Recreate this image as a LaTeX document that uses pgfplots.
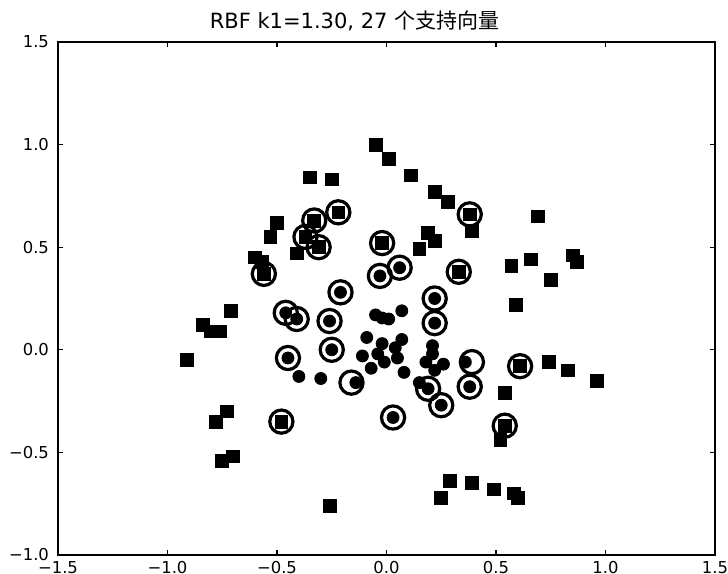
\documentclass[border=0pt]{standalone}
\usepackage{fontspec}
\setmainfont{DejaVu Sans}
\newfontfamily\cjk{Noto Sans CJK SC}
\usepackage{pgfplots}
\pgfplotsset{compat=1.18}

\begin{document}
\begin{tikzpicture}
\begin{axis}[
  scale only axis,
  width=328.5pt, height=256.5pt,
  xmin=-1.5, xmax=1.5, ymin=-1.0, ymax=1.5,
  xtick={-1.5,-1.0,-0.5,0.0,0.5,1.0,1.5},
  xticklabels={−1.5,−1.0,−0.5,0.0,0.5,1.0,1.5},
  ytick={-1.0,-0.5,0.0,0.5,1.0,1.5},
  yticklabels={−1.0,−0.5,0.0,0.5,1.0,1.5},
  tick label style={font=\fontsize{8.2}{9}\selectfont},
  xticklabel style={yshift=0.5pt},
  yticklabel style={xshift=-1pt},
  major tick length=2.5pt,
  tick style={black, line width=0.6pt},
  axis line style={line width=0.8pt},
  title={\fontsize{10.5}{12}\selectfont RBF k1=1.30, 27 {\cjk 个支持向量}},
  title style={yshift=-4pt, xshift=-16pt},
]
% class +1 (squares)
\addplot[only marks, mark=square*, mark size=3.2pt, black] coordinates {
(-0.05,1.00) (0.01,0.93) (0.11,0.85) (0.22,0.77) (0.28,0.72)
(0.38,0.66) (0.39,0.58) (0.19,0.57) (0.22,0.53) (0.15,0.49)
(-0.02,0.52) (0.33,0.38) (0.69,0.65) (0.57,0.41) (0.66,0.44)
(0.85,0.46) (0.87,0.43) (0.75,0.34) (0.59,0.22) (0.61,-0.08)
(0.74,-0.06) (0.83,-0.10) (0.96,-0.15) (0.54,-0.21) (0.54,-0.37)
(0.52,-0.44) (0.25,-0.72) (0.29,-0.64) (0.39,-0.65) (0.49,-0.68)
(0.58,-0.70) (0.60,-0.72) (-0.26,-0.76) (-0.70,-0.52) (-0.75,-0.54)
(-0.73,-0.30) (-0.78,-0.35) (-0.48,-0.35) (-0.91,-0.05) (-0.71,0.19)
(-0.84,0.12) (-0.80,0.09) (-0.76,0.09) (-0.56,0.37) (-0.60,0.45)
(-0.57,0.43) (-0.53,0.55) (-0.50,0.62) (-0.41,0.47) (-0.37,0.55)
(-0.31,0.50) (-0.33,0.63) (-0.22,0.67) (-0.35,0.84) (-0.25,0.83)
};
% class -1 (dots)
\addplot[only marks, mark=*, mark size=3pt, black] coordinates {
(-0.03,0.36) (0.06,0.40) (-0.21,0.28) (0.22,0.25) (0.22,0.13)
(-0.46,0.18) (-0.41,0.15) (-0.26,0.14) (-0.25,0.00) (-0.45,-0.04)
(-0.14,-0.16) (0.36,-0.06) (0.38,-0.18) (0.19,-0.19) (0.25,-0.27)
(0.03,-0.33) (-0.40,-0.13) (-0.30,-0.14)
(-0.05,0.17) (-0.02,0.155) (0.01,0.15) (0.07,0.19) (-0.09,0.06)
(-0.02,0.03) (0.07,0.05) (0.04,0.01) (-0.11,-0.03) (-0.04,-0.02)
(-0.01,-0.06) (0.05,-0.04) (-0.07,-0.09) (0.08,-0.11)
(0.21,0.02) (0.21,-0.02) (0.18,-0.06) (0.22,-0.10) (0.26,-0.07)
(0.15,-0.16)
};
% support vectors (rings)
\addplot[only marks, mark=o, mark size=5.8pt, black, mark options={line width=1.6pt}] coordinates {
(-0.03,0.36) (0.06,0.40) (-0.21,0.28) (0.22,0.25) (0.22,0.13)
(-0.46,0.18) (-0.41,0.15) (-0.26,0.14) (-0.25,0.00) (-0.45,-0.04)
(-0.16,-0.16) (0.39,-0.06) (0.38,-0.18) (0.19,-0.19) (0.25,-0.27)
(0.03,-0.33)
(-0.33,0.63) (-0.22,0.67) (-0.37,0.55) (-0.31,0.50) (-0.56,0.37)
(-0.02,0.52) (0.38,0.66) (0.33,0.38) (0.61,-0.08) (0.54,-0.37)
(-0.48,-0.35)
};
\end{axis}
\pgfresetboundingbox
\path ([shift={(-29pt,-9.5pt)}]current axis.south west) rectangle ([shift={(6.5pt,21pt)}]current axis.north east);
\end{tikzpicture}
\end{document}
